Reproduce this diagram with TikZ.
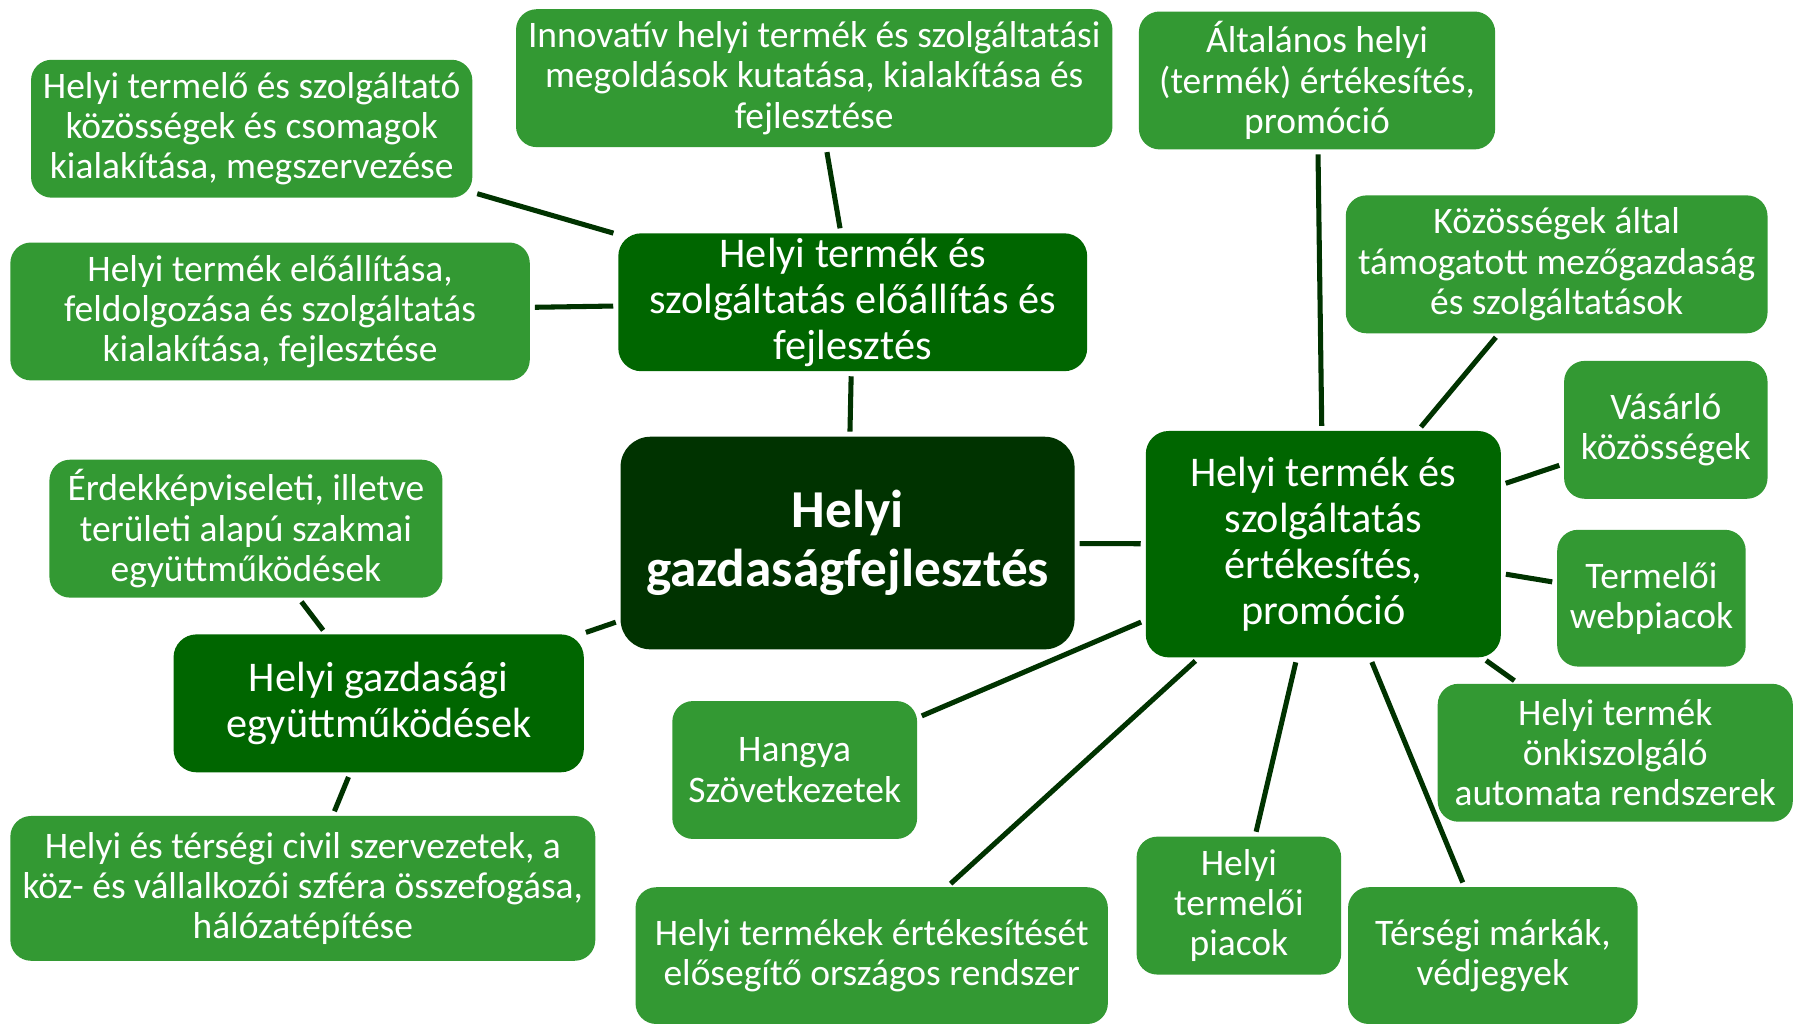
\documentclass[tikz,border=0pt]{standalone}
\usepackage{fontspec}
\setmainfont{Carlito}
\usetikzlibrary{positioning}

\definecolor{leafgreen}{HTML}{339933}
\definecolor{hubgreen}{HTML}{006600}
\definecolor{coregreen}{HTML}{003300}

\begin{document}
\begin{tikzpicture}
  [x=0.5pt, y=-0.5pt,
   sz/.style 2 args = {minimum width={#1*0.5pt}, minimum height={#2*0.5pt}},
   leaf/.style = {rectangle, rounded corners=9pt, fill=leafgreen, text=white,
                  align=center, inner sep=0pt, font=\fontsize{16.3}{17.5}\selectfont},
   hub/.style = {rectangle, rounded corners=10pt, fill=hubgreen, text=white,
                 align=center, inner sep=0pt, font=\fontsize{18.4}{20}\selectfont},
   core/.style = {rectangle, rounded corners=13pt, fill=coregreen, text=white,
                  align=center, inner sep=0pt, font=\fontsize{23.2}{25.5}\selectfont\bfseries},
   link/.style = {draw=coregreen, line width=2.2pt, shorten >=2pt, shorten <=2pt}]
  \useasboundingbox (0, 0) rectangle (1568, 891);

  % main nodes
  \node [core, sz={395}{185}] (core) at (737.5, 472.5) {Helyi\\gazdaságfejlesztés};
  \node [hub, sz={408}{120}] (prod) at (742, 263)
    {Helyi termék és\\szolgáltatás előállítás és\\fejlesztés};
  \node [hub, sz={309}{197}] (sales) at (1151.5, 473.5)
    {Helyi termék és\\szolgáltatás\\értékesítés,\\promóció};
  \node [hub, sz={357}{120}] (coop) at (329.5, 612)
    {Helyi gazdasági\\együttműködések};

  % production side
  \node [leaf, sz={519}{120}] (innov) at (708.5, 68)
    {Innovatív helyi termék és szolgáltatási\\megoldások kutatása, kialakítása és\\fejlesztése};
  \node [leaf, sz={384}{120}] (comm) at (219, 112)
    {Helyi termelő és szolgáltató\\közösségek és csomagok\\kialakítása, megszervezése};
  \node [leaf, sz={452}{120}] (make) at (235, 271)
    {Helyi termék előállítása,\\feldolgozása és szolgáltatás\\kialakítása, fejlesztése};

  % cooperation side
  \node [leaf, sz={342}{120}] (repr) at (214, 460)
    {Érdekképviseleti, illetve\\területi alapú szakmai\\együttműködések};
  \node [leaf, sz={509}{126}] (civil) at (263.5, 773)
    {Helyi és térségi civil szervezetek, a\\köz- és vállalkozói szféra összefogása,\\hálózatépítése};

  % sales side
  \node [leaf, sz={310}{120}] (gen) at (1146, 70)
    {Általános helyi\\(termék) értékesítés,\\promóció};
  \node [leaf, sz={367}{120}] (csa) at (1354.5, 230)
    {Közösségek által\\támogatott mezőgazdaság\\és szolgáltatások};
  \node [leaf, sz={177}{120}] (buyer) at (1449.5, 374) {Vásárló\\közösségek};
  \node [leaf, sz={164}{119}] (web) at (1437, 520.5) {Termelői\\webpiacok};
  \node [leaf, sz={309}{120}] (auto) at (1405.5, 655)
    {Helyi termék\\önkiszolgáló\\automata rendszerek};
  \node [leaf, sz={252}{119}] (brand) at (1299, 831.5) {Térségi márkák,\\védjegyek};
  \node [leaf, sz={178}{120}] (piac) at (1078, 788) {Helyi\\termelői\\piacok};
  \node [leaf, sz={411}{119}] (nat) at (758.5, 831.5)
    {Helyi termékek értékesítését\\elősegítő országos rendszer};
  \node [leaf, sz={213}{120}] (hangya) at (691.5, 670) {Hangya\\Szövetkezetek};

  % connectors
  \draw [link] (core) -- (prod);
  \draw [link] (core) -- (sales);
  \draw [link] (core) -- (coop);
  \draw [link] (prod) -- (innov);
  \draw [link] (prod) -- (comm);
  \draw [link] (prod) -- (make);
  \draw [link] (coop) -- (repr);
  \draw [link] (coop) -- (civil);
  \draw [link] (sales) -- (gen);
  \draw [link] (sales) -- (csa);
  \draw [link] (sales) -- (buyer);
  \draw [link] (sales) -- (web);
  \draw [link] (sales) -- (auto);
  \draw [link] (sales) -- (brand);
  \draw [link] (sales) -- (piac);
  \draw [link] (sales) -- (nat);
  \draw [link] (sales) -- (hangya);
\end{tikzpicture}
\end{document}
